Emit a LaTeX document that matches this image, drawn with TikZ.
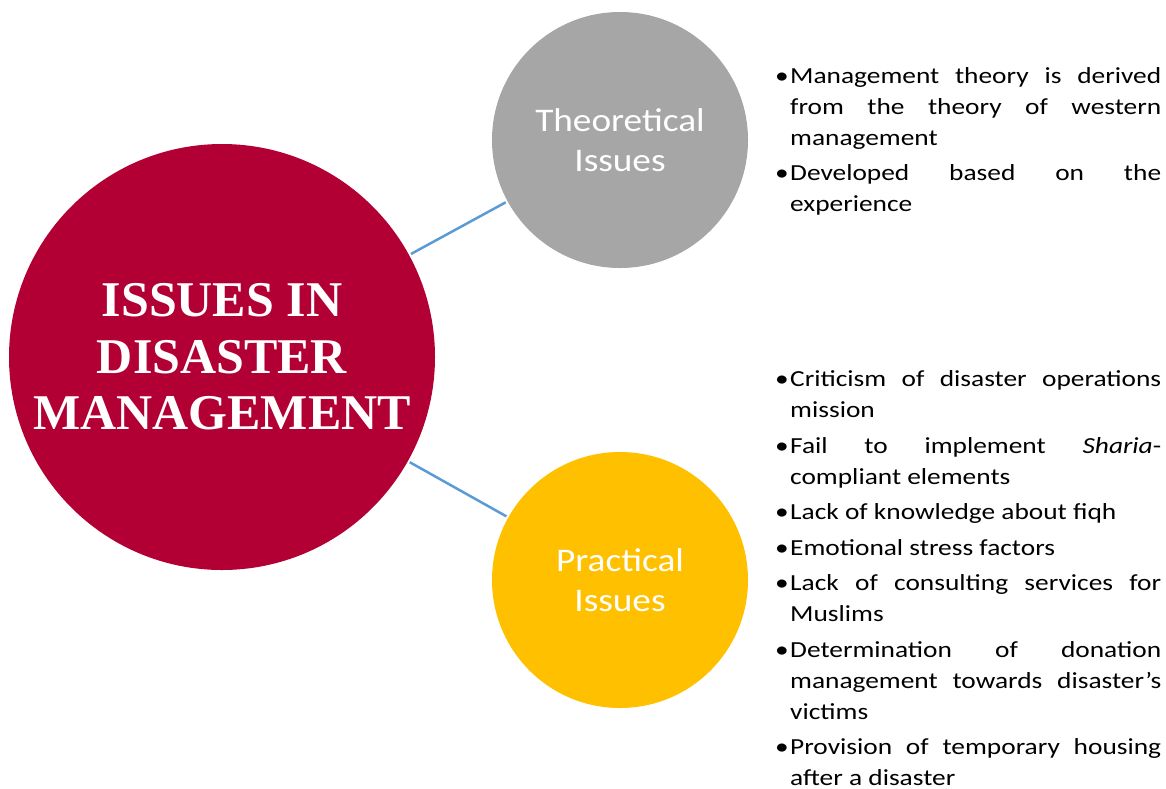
\documentclass[tikz,border=0pt]{standalone}
\usepackage{fontspec}
\setmainfont{Carlito}
\newfontfamily\notesfont{Carlito}[FakeStretch=1.19]
\newfontfamily\labelfont{Carlito}[FakeStretch=1.13]
\newfontfamily\titlefont{Liberation Serif}
\usepackage{tikz}

\definecolor{issuered}{RGB}{178,0,52}
\definecolor{issuegray}{RGB}{166,166,166}
\definecolor{issuegold}{RGB}{255,192,0}
\definecolor{issueblue}{RGB}{91,155,213}

\newcommand\issueitem{\par\noindent\hangindent=15pt\hangafter=1\makebox[15pt][l]{\textbullet}}

\tikzset{
    bubble/.style={circle, inner sep=0pt, align=center, text=white},
    notes/.style={anchor=base west, inner sep=0pt, text width=386pt, align=justify,
        font=\notesfont\fontsize{23}{31}\selectfont},
    link/.style={issueblue, line width=2.5pt, shorten <=2pt, shorten >=2pt},
}

\begin{document}
\begin{tikzpicture}[x=1pt, y=-1pt]
                \pgfmathsetmacro\rhub{213}  % radius of the main circle
                \pgfmathsetmacro\rsat{128}  % radius of the side circles
                \useasboundingbox (0,0) rectangle (1166,788);
                % main circle
                \node (hub) [bubble, fill=issuered, minimum size=2*\rhub pt,
                    font=\titlefont\bfseries\fontsize{50}{56.5}\selectfont]
                    at (222,357) {ISSUES IN\\DISASTER\\MANAGEMENT};
                % side circles
                \foreach \name/\col/\y/\lbl in {%
                    theory/issuegray/140/{Theoretical\\Issues},%
                    practice/issuegold/580/{Practical\\Issues}} {%
                    \node (\name) [bubble, fill=\col, minimum size=2*\rsat pt,
                        font=\labelfont\fontsize{33}{40}\selectfont] at (620,\y) {\lbl};
                }
                % links
                \foreach \name in {theory,practice} {%
                    \draw [link] (hub) -- (\name);
                }
                % notes
                \node (theorynotes) [notes] at (775,48) {%
                    \setlength\parskip{4pt}%
                    \issueitem Management theory is derived\linebreak from the theory of western\linebreak management
                    \issueitem Developed based on the\linebreak experience\par};
                \node (practicenotes) [notes] at (775,351) {%
                    \setlength\parskip{4.5pt}%
                    \issueitem Criticism of disaster operations\linebreak mission
                    \issueitem Fail to implement \textit{Sharia}-\linebreak compliant elements
                    \issueitem Lack of knowledge about fiqh
                    \issueitem Emotional stress factors
                    \issueitem Lack of consulting services for\linebreak Muslims
                    \issueitem Determination of donation\linebreak management towards disaster’s\linebreak victims
                    \issueitem Provision of temporary housing\linebreak after a disaster\par};
\end{tikzpicture}
\end{document}
